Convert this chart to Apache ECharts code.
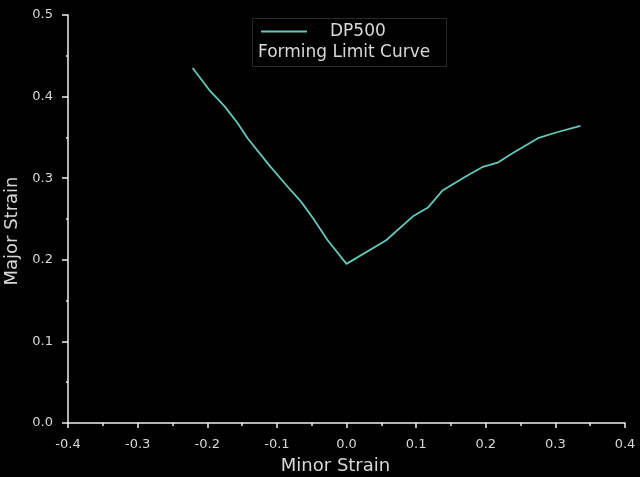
<!DOCTYPE html>
<html>
<head>
<meta charset="utf-8">
<script src="https://cdn.jsdelivr.net/npm/echarts@6/dist/echarts.min.js"></script>
<style>html,body{margin:0;padding:0;background:#000;}#c{width:640px;height:477px;}</style>
</head>
<body>
<div id="c"></div>
<script>
var seriesName = 'DP500';
var legendSubtitle = 'Forming Limit Curve';
var minorStrain = [-0.221, -0.197, -0.175, -0.156, -0.142, -0.112, -0.087, -0.065, -0.048, -0.027, 0.0, 0.057, 0.095, 0.117, 0.138, 0.167, 0.196, 0.217, 0.239, 0.275, 0.301, 0.336];
var majorStrain = [0.435, 0.408, 0.388, 0.367, 0.349, 0.317, 0.292, 0.271, 0.251, 0.224, 0.195, 0.224, 0.253, 0.264, 0.285, 0.300, 0.314, 0.319, 0.331, 0.349, 0.356, 0.364];

var data = minorStrain.map(function (x, i) { return [x, majorStrain[i]]; });
var chart = echarts.init(document.getElementById('c'));
var axisColor = '#f0f0f0';
var textColor = '#d8d8d8';
var ff = '"DejaVu Sans", Verdana, sans-serif';
chart.setOption({
  backgroundColor: '#000',
  animation: false,
  grid: { left: 68, right: 15, top: 15, bottom: 54, containLabel: false, outerBoundsMode: 'none' },
  legend: {
    left: 256, top: 18,
    itemWidth: 46, itemHeight: 14, itemGap: 0,
    icon: 'path://M0,6 L46,6 L46,8 L0,8 Z',
    textStyle: { color: textColor, fontSize: 17, fontFamily: ff, padding: [0, 0, 0, 18] },
    data: [seriesName]
  },
  graphic: [
    { type: 'rect', left: 250, top: 16, shape: { width: 194, height: 48 }, style: { fill: 'none', stroke: '#2a2a2a', lineWidth: 1 } },
    { type: 'text', left: 258, top: 44, style: { text: legendSubtitle, fill: textColor, font: '17px "DejaVu Sans", Verdana, sans-serif' } }
  ],
  xAxis: {
    type: 'value', min: -0.4, max: 0.4, interval: 0.1,
    name: 'Minor Strain', nameLocation: 'middle', nameGap: 34,
    nameTextStyle: { color: textColor, fontSize: 18, fontFamily: ff, padding: [0, 22, 0, 0] },
    axisLine: { show: true, onZero: false, lineStyle: { color: axisColor, width: 1.5 } },
    axisTick: { show: true, inside: false, length: 5, lineStyle: { color: axisColor, width: 1.5 } },
    minorTick: { show: true, splitNumber: 2, length: 3, lineStyle: { color: axisColor, width: 1.5 } },
    axisLabel: { color: textColor, fontSize: 13, margin: 15, fontFamily: ff, formatter: function (v) { return v.toFixed(1); } },
    splitLine: { show: false }
  },
  yAxis: {
    type: 'value', min: 0, max: 0.5, interval: 0.1,
    name: 'Major Strain', nameLocation: 'middle', nameGap: 42,
    nameTextStyle: { color: textColor, fontSize: 18, fontFamily: ff, padding: [0, 24, 0, 0] },
    axisLine: { show: true, onZero: false, lineStyle: { color: axisColor, width: 1.5 } },
    axisTick: { show: true, inside: false, length: 6, lineStyle: { color: axisColor, width: 1.5 } },
    minorTick: { show: true, splitNumber: 2, length: 2, lineStyle: { color: axisColor, width: 1.5 } },
    axisLabel: { color: textColor, fontSize: 13, margin: 15, fontFamily: ff, formatter: function (v) { return v.toFixed(1); } },
    splitLine: { show: false }
  },
  series: [{
    name: seriesName, type: 'line', data: data,
    showSymbol: false, symbol: 'none',
    lineStyle: { color: '#62c9bb', width: 1.8 },
    itemStyle: { color: '#62c9bb' }
  }]
});
</script>
</body>
</html>
